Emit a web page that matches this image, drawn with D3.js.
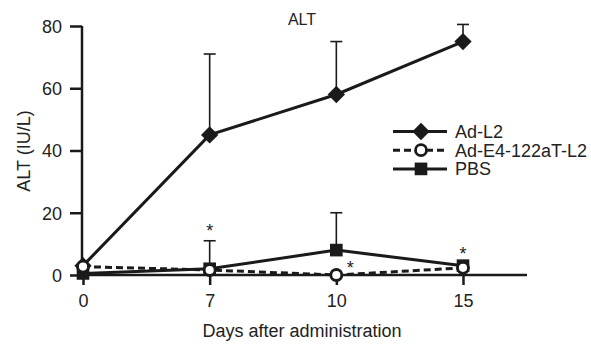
<!DOCTYPE html>
<html>
<head>
<meta charset="utf-8">
<script src="https://cdn.jsdelivr.net/npm/d3@7"></script>
<style>
  body { margin: 0; background: #fff; }
  svg text { font-family: "Liberation Sans", Arial, sans-serif; fill: #222; }
</style>
</head>
<body>
<div id="chart"></div>
<script>
// Days shown on the x axis (equally spaced categories)
const days = ["0", "7", "10", "15"];
const yTicks = [0, 20, 40, 60, 80];

// Mean values and upper error bars (null = no bar drawn)
const adL2 = [3, 45, 58, 75];
const adL2Err = [null, 71, 75, 80.5];
const adE4 = [2.7, 1.6, 0, 2.3];
const adE4Err = [null, null, null, null];
const pbs = [0.5, 2, 8, 3];
const pbsErr = [null, 11, 20, null];

// Significance markers: [day, value at the star's centre]
const stars = [["7", 15.4], ["10", 3.5], ["15", 8]];

const width = 591, height = 344;

const svg = d3.select("#chart").append("svg")
  .attr("width", width)
  .attr("height", height);

const x = d3.scalePoint().domain(days).range([83, 463]);
const y = d3.scaleLinear().domain([0, 80]).range([275, 26]);

const ink = "#1a1a1a";

// Y axis
const yAxis = svg.append("g")
  .attr("transform", "translate(82,0)")
  .call(d3.axisLeft(y).tickValues(yTicks).tickSize(12).tickPadding(8));
yAxis.select(".domain").attr("d", "M0," + y(80) + "V" + y(0)).attr("stroke", ink).attr("stroke-width", 2.5);
yAxis.selectAll(".tick line").attr("stroke", ink).attr("stroke-width", 2.5);
yAxis.selectAll(".tick text").style("font-size", "18px").attr("dy", "0.35em");

// X axis
const xAxis = svg.append("g")
  .attr("transform", "translate(0," + y(0) + ")")
  .call(d3.axisBottom(x).tickSize(10).tickPadding(9));
xAxis.select(".domain").attr("d", "M82,0H527").attr("stroke", ink).attr("stroke-width", 2.5);
xAxis.selectAll(".tick line").attr("stroke", ink).attr("stroke-width", 2.5);
xAxis.selectAll(".tick text").style("font-size", "18px");

// Title and axis labels
svg.append("text").attr("x", 302).attr("y", 25)
  .attr("text-anchor", "middle").style("font-size", "16px").text("ALT");
svg.append("text").attr("x", 302).attr("y", 337)
  .attr("text-anchor", "middle").style("font-size", "18px").text("Days after administration");
svg.append("text")
  .attr("transform", "translate(30,151) rotate(-90)")
  .attr("text-anchor", "middle").style("font-size", "18px").text("ALT (IU/L)");

// Error bars (upper only)
function drawErr(vals, errs) {
  const g = svg.append("g").attr("stroke", ink).attr("stroke-width", 1.6);
  days.forEach((d, i) => {
    if (errs[i] === null) return;
    g.append("line").attr("x1", x(d)).attr("x2", x(d)).attr("y1", y(vals[i])).attr("y2", y(errs[i]));
    g.append("line").attr("x1", x(d) - 6).attr("x2", x(d) + 6).attr("y1", y(errs[i])).attr("y2", y(errs[i]));
  });
}
drawErr(adL2, adL2Err);
drawErr(pbs, pbsErr);
drawErr(adE4, adE4Err);

const line = d3.line().x((d, i) => x(days[i])).y(d => y(d));

// Series lines
svg.append("path").datum(pbs).attr("d", line)
  .attr("fill", "none").attr("stroke", ink).attr("stroke-width", 3);
svg.append("path").datum(adE4).attr("d", line)
  .attr("fill", "none").attr("stroke", ink).attr("stroke-width", 3).attr("stroke-dasharray", "7,4");
svg.append("path").datum(adL2).attr("d", line)
  .attr("fill", "none").attr("stroke", ink).attr("stroke-width", 3);

// Markers
const sym = (type, size) => d3.symbol().type(type).size(size)();
function marker(g, kind, t) {
  if (kind === "diamond") {
    g.append("path").attr("transform", t + " rotate(45)").attr("d", sym(d3.symbolSquare, 150)).attr("fill", ink);
  } else if (kind === "square") {
    g.append("path").attr("transform", t).attr("d", sym(d3.symbolSquare, 160)).attr("fill", ink);
  } else {
    g.append("circle").attr("transform", t).attr("r", 5.5).attr("fill", "#fff").attr("stroke", ink).attr("stroke-width", 2.8);
  }
}
function drawMarkers(vals, kind) {
  vals.forEach((v, i) => marker(svg, kind, "translate(" + x(days[i]) + "," + y(v) + ")"));
}
drawMarkers(pbs, "square");
drawMarkers(adL2, "diamond");
drawMarkers(adE4, "circle");

// Asterisks
stars.forEach(([d, v]) => {
  svg.append("text")
    .attr("x", x(d) + (d === "10" ? 14 : 0)).attr("y", y(v) + 10)
    .attr("text-anchor", "middle").style("font-size", "18px").text("*");
});

// Legend
const legendItems = [
  { name: "Ad-L2", kind: "diamond", dash: null },
  { name: "Ad-E4-122aT-L2", kind: "circle", dash: "7,4" },
  { name: "PBS", kind: "square", dash: null }
];
const legend = svg.append("g");
legendItems.forEach((it, i) => {
  const cy = 131.5 + i * 18.7;
  legend.append("line").attr("x1", 393).attr("x2", 447).attr("y1", cy).attr("y2", cy)
    .attr("stroke", ink).attr("stroke-width", 3).attr("stroke-dasharray", it.dash);
  marker(legend, it.kind, "translate(421," + cy + ")");
  legend.append("text").attr("x", 455).attr("y", cy + 6.5).style("font-size", "18px").text(it.name);
});
</script>
</body>
</html>
